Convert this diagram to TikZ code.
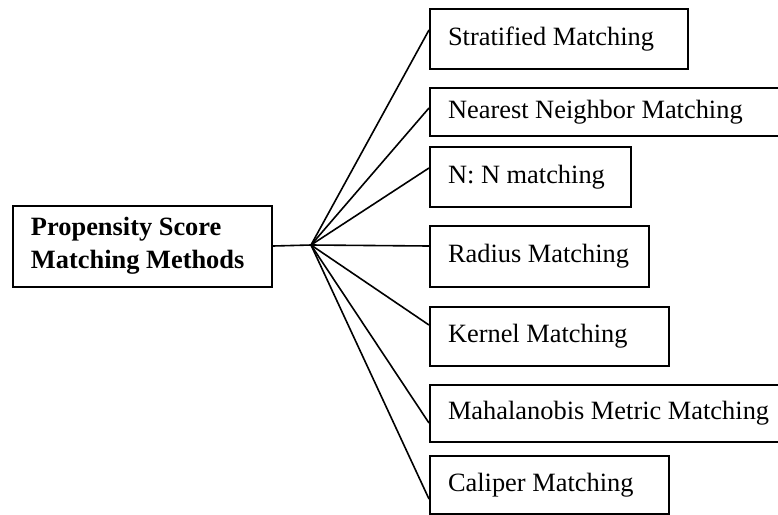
\documentclass[tikz,border=0pt]{standalone}
\usepackage{fontspec}
\setmainfont{Liberation Serif}

\begin{document}
\begin{tikzpicture}[x=0.5pt, y=-0.5pt,
method/.style={draw, line width=1pt, anchor=north west, align=flush left, inner xsep=9pt, inner ysep=0pt, font=\fontsize{13.2}{16.5}\selectfont},
link/.style={line width=0.8pt}]

\useasboundingbox (0,0) rectangle (778,515);

% left box
\node[method, text width=111.5pt, minimum height=40.5pt, font=\fontsize{13.2}{16.5}\selectfont\bfseries] (psm) at (12,204.5) {Propensity Score\\Matching Methods};

\coordinate (hub) at (311,245);

% the methods
\node[method, text width=111pt, minimum height=30pt] (strat) at (429,8) {Stratified Matching};
\node[method, text width=175pt, minimum height=24pt] (near) at (429,87) {Nearest Neighbor Matching};
\node[method, text width=82.5pt, minimum height=30pt] (nn) at (429,146) {N: N matching};
\node[method, text width=91.5pt, minimum height=30.5pt] (rad) at (429,225) {Radius Matching};
\node[method, text width=101.5pt, minimum height=29.5pt] (kern) at (429,306) {Kernel Matching};
\node[method, text width=175pt, minimum height=28.5pt] (mahal) at (429,384) {Mahalanobis Metric Matching};
\node[method, text width=101.5pt, minimum height=29pt] (cal) at (429,455) {Caliper Matching};

\draw[link] (psm.east) -- (hub);
\foreach \b/\s in {strat/4.5, near/2, nn/4.5, rad/5.25, kern/5.75, mahal/-4.75, cal/-7}
  \draw[link] (hub) -- ([yshift=\s pt]\b.west);

\end{tikzpicture}
\end{document}
